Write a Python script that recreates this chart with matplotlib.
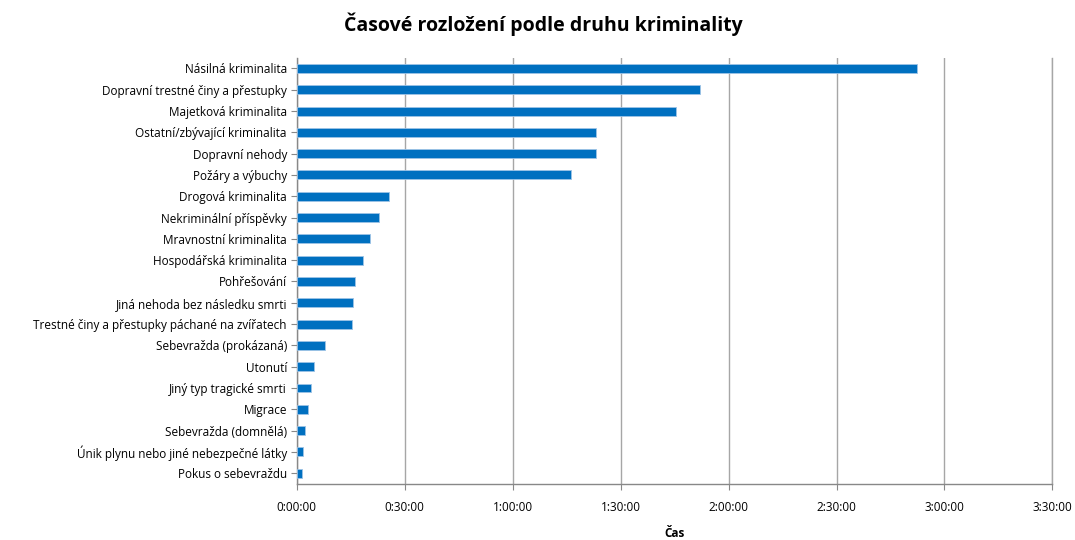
import matplotlib
matplotlib.use("Agg")
import matplotlib.pyplot as plt
from matplotlib.ticker import FuncFormatter, MultipleLocator

categories = [
    "Násilná kriminalita",
    "Dopravní trestné činy a přestupky",
    "Majetková kriminalita",
    "Ostatní/zbývající kriminalita",
    "Dopravní nehody",
    "Požáry a výbuchy",
    "Drogová kriminalita",
    "Nekriminální příspěvky",
    "Mravnostní kriminalita",
    "Hospodářská kriminalita",
    "Pohřešování",
    "Jiná nehoda bez následku smrti",
    "Trestné činy a přestupky páchané na zvířatech",
    "Sebevražda (prokázaná)",
    "Utonutí",
    "Jiný typ tragické smrti",
    "Migrace",
    "Sebevražda (domnělá)",
    "Únik plynu nebo jiné nebezpečné látky",
    "Pokus o sebevraždu",
]
# minutes
minutes = [172.3, 112.1, 105.5, 83.1, 83.1, 76.2, 25.7, 22.9, 20.5, 18.3,
           16.3, 15.6, 15.3, 8.0, 4.9, 3.9, 3.2, 2.2, 1.8, 1.5]

plt.rcParams['font.family'] = ['Open Sans', 'DejaVu Sans']

fig = plt.figure(figsize=(10.75, 5.4), dpi=100)
ax = fig.add_axes([0.276, 0.104, 0.703, 0.789])

y = list(range(len(categories)))
ax.barh(y, minutes, height=0.42, color="#0070C0", edgecolor="#9DC3E6", linewidth=0.6, zorder=3)
ax.set_yticks(y)
ax.set_yticklabels(categories, fontsize=8.5)
ax.set_ylim(len(categories) - 0.5, -0.5)
ax.set_xlim(0, 210)
ax.xaxis.set_major_locator(MultipleLocator(30))

def fmt(v, pos):
    m = int(round(v))
    return f"{m // 60}:{m % 60:02d}:00"
ax.xaxis.set_major_formatter(FuncFormatter(fmt))
ax.tick_params(axis='x', labelsize=8.5, length=4, color="#888888", pad=8)
ax.tick_params(axis='y', length=4, color="#888888", pad=3)
ax.grid(axis='x', color="#A6A6A6", linewidth=1.0, zorder=0)
ax.axvline(210, color="#A6A6A6", linewidth=1.0, zorder=0, clip_on=False)
for s in ['top', 'right']:
    ax.spines[s].set_visible(False)
for s in ['left', 'bottom']:
    ax.spines[s].set_color("#888888")
    ax.spines[s].set_linewidth(1.0)

fig.text(0.505, 0.955, "Časové rozložení podle druhu kriminality", ha='center', va='center',
         fontsize=14, fontweight='bold')
ax.set_xlabel("Čas", fontsize=8.5, fontweight='bold', labelpad=10)

fig.savefig("out.png", dpi=100)
